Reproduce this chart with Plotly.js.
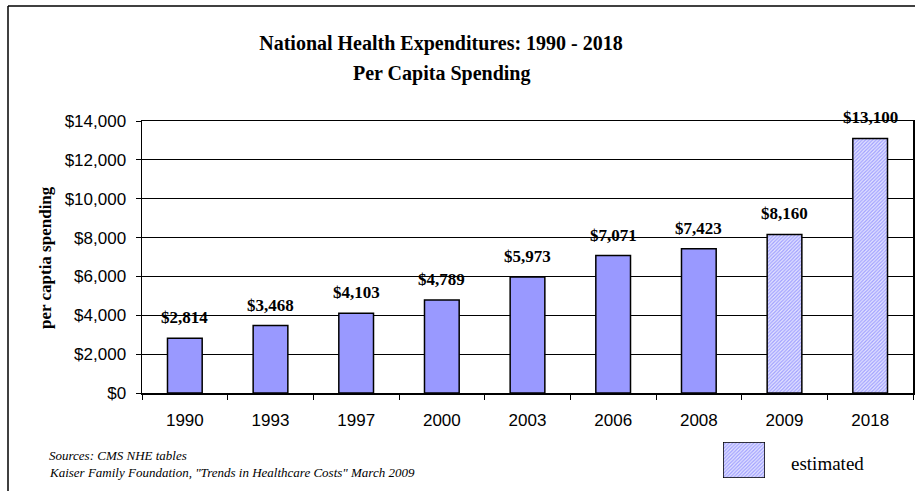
<!DOCTYPE html>
<html>
<head>
<meta charset="utf-8">
<script src="https://cdn.plot.ly/plotly-3.0.1.min.js"></script>
<style>html,body{margin:0;padding:0;background:#fff;}#chart{width:915px;height:491px;}</style>
</head>
<body>
<div id="chart"></div>
<script>
// ---- data ----
const years = ["1990","1993","1997","2000","2003","2006","2008","2009","2018"];
const spending = [2814, 3468, 4103, 4789, 5973, 7071, 7423, 8160, 13100];
const estimated = [false, false, false, false, false, false, false, true, true];
const yTickVals = [0, 2000, 4000, 6000, 8000, 10000, 12000, 14000];
const yTickText = ["$0","$2,000","$4,000","$6,000","$8,000","$10,000","$12,000","$14,000"];
const titleLines = ["National Health Expenditures: 1990 - 2018", "Per Capita Spending"];
const yTitle = "per captia spending";
const sources = ["Sources: CMS NHE tables", "Kaiser Family Foundation, \"Trends in Healthcare Costs\" March 2009"];
const legendLabel = "estimated";

// ---- helpers ----
const W = 915, H = 491;
const px = x => x / W;
const py = y => (H - y) / H;
const fmt = v => "$" + v.toLocaleString("en-US");
const serif = "Liberation Serif, Times New Roman, serif";
const sans = "Liberation Sans, Arial, sans-serif";
const barColor = "#9999ff";
const hatchFg = "#a0a0ff";
const hatchBg = "#e6e6ff";
const hatchPattern = {shape: "/", fgcolor: hatchFg, bgcolor: hatchBg, size: 2.5, solidity: 0.5, fillmode: "replace"};

const mainTrace = {
  type: "bar",
  x: years,
  y: spending,
  xaxis: "x", yaxis: "y",
  marker: {
    color: barColor,
    line: {color: "#000000", width: 1.5},
    pattern: {
      shape: estimated.map(e => e ? "/" : ""),
      fgcolor: hatchFg, bgcolor: hatchBg, size: 2.5, solidity: 0.5, fillmode: "replace"
    }
  },
  hoverinfo: "x+y",
  showlegend: false
};

const legendTrace = {
  type: "bar",
  x: [legendLabel],
  y: [1],
  width: [1],
  xaxis: "x2", yaxis: "y2",
  marker: {color: barColor, line: {color: "#000000", width: 1.5}, pattern: hatchPattern},
  hoverinfo: "skip",
  showlegend: false
};

const annotations = [];
years.forEach((yr, i) => {
  annotations.push({
    x: i, y: spending[i], xref: "x", yref: "y",
    text: "<b>" + fmt(spending[i]) + "</b>",
    showarrow: false, yanchor: "bottom", xanchor: "center", yshift: 9,
    font: {family: serif, size: 17, color: "#000"}
  });
});
annotations.push({
  x: px(441), y: py(73), xref: "paper", yref: "paper",
  text: "<b>" + titleLines[1] + "</b>", showarrow: false,
  xanchor: "center", yanchor: "middle",
  font: {family: serif, size: 20, color: "#000"}
});
annotations.push({
  x: px(45), y: py(258), xref: "paper", yref: "paper",
  text: "<b>" + yTitle + "</b>", textangle: -90, showarrow: false,
  xanchor: "center", yanchor: "middle",
  font: {family: serif, size: 17, color: "#000"}
});
annotations.push({
  x: px(47), y: py(455), xref: "paper", yref: "paper",
  text: "<i>" + sources[0] + "</i>", showarrow: false, xanchor: "left", yanchor: "middle",
  font: {family: serif, size: 13, color: "#000"}
});
annotations.push({
  x: px(47), y: py(472), xref: "paper", yref: "paper",
  text: "<i>" + sources[1] + "</i>", showarrow: false, xanchor: "left", yanchor: "middle",
  font: {family: serif, size: 13, color: "#000"}
});
annotations.push({
  x: px(789), y: py(463), xref: "paper", yref: "paper",
  text: legendLabel, showarrow: false, xanchor: "left", yanchor: "middle",
  font: {family: serif, size: 19, color: "#000"}
});

const layout = {
  width: W, height: H,
  margin: {l: 0, r: 0, t: 0, b: 0, pad: 0},
  paper_bgcolor: "#ffffff",
  plot_bgcolor: "#ffffff",
  showlegend: false,
  bargap: 0.595,
  title: {
    text: "<b>" + titleLines[0] + "</b>",
    x: px(441), xanchor: "center", y: py(43), yanchor: "middle",
    font: {family: serif, size: 20, color: "#000"}
  },
  xaxis: {
    domain: [px(142), px(913)],
    type: "category",
    categoryorder: "array", categoryarray: years,
    range: [-0.5, years.length - 0.5], autorange: false,
    showline: true, linecolor: "#000", linewidth: 1.5, mirror: true,
    ticks: "outside", tickson: "boundaries", ticklen: 5, tickcolor: "#000", tickwidth: 1,
    ticklabelstandoff: 11,
    tickfont: {family: sans, size: 17, color: "#000"},
    showgrid: false, zeroline: false, fixedrange: true
  },
  yaxis: {
    domain: [py(393), py(121)],
    range: [0, 14000], autorange: false,
    tickvals: yTickVals, ticktext: yTickText,
    showline: true, linecolor: "#000", linewidth: 1.5, mirror: true,
    ticks: "outside", ticklen: 5, tickcolor: "#000", tickwidth: 1,
    ticklabelstandoff: 6,
    tickfont: {family: sans, size: 17, color: "#000"},
    showgrid: true, gridcolor: "#000", gridwidth: 1,
    zeroline: false, fixedrange: true
  },
  xaxis2: {
    domain: [px(723), px(765)], anchor: "y2", type: "category",
    range: [-0.5, 0.5], autorange: false, visible: false, fixedrange: true
  },
  yaxis2: {
    domain: [py(478), py(442)], anchor: "x2",
    range: [0, 1], autorange: false, visible: false, fixedrange: true
  },
  annotations: annotations,
  shapes: [
    {type: "line", xref: "paper", yref: "paper", x0: px(8), x1: px(8), y0: py(6), y1: py(495), line: {color: "#000", width: 1.5}},
    {type: "line", xref: "paper", yref: "paper", x0: px(8), x1: px(920), y0: py(6), y1: py(6), line: {color: "#000", width: 1.5}}
  ]
};

Plotly.newPlot("chart", [mainTrace, legendTrace], layout, {staticPlot: true, displayModeBar: false});
</script>
</body>
</html>
